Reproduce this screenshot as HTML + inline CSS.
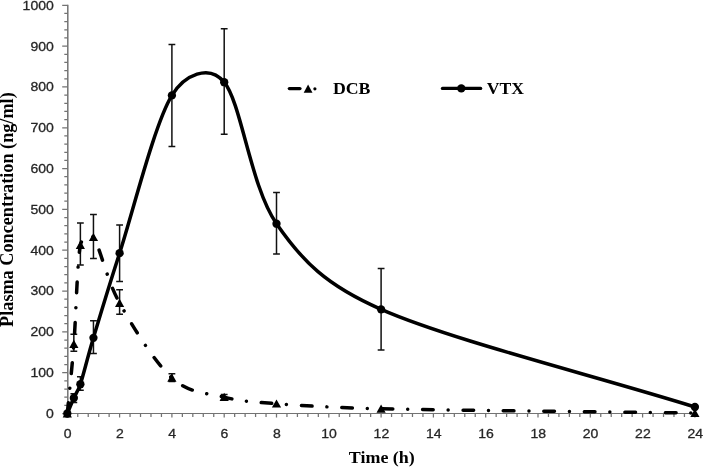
<!DOCTYPE html>
<html><head><meta charset="utf-8"><title>Plasma concentration</title>
<style>html,body{margin:0;padding:0;background:#fff;}body{width:703px;height:467px;overflow:hidden;font-family:"Liberation Sans",sans-serif;}svg{display:block;will-change:transform;}</style>
</head><body>
<svg width="703" height="467" viewBox="0 0 703 467">
<rect width="703" height="467" fill="#fff"/>
<g stroke="#737373" stroke-width="1.25" fill="none">
<path d="M67.80,4.70 V414.0" stroke-width="1.5"/><path d="M67.10,413.5 H695.50" stroke-width="1.1"/>
<path d="M62.20,413.50 H67.7 M64.30,405.34 H67.7 M64.30,397.17 H67.7 M64.30,389.01 H67.7 M64.30,380.84 H67.7 M62.20,372.68 H67.7 M64.30,364.52 H67.7 M64.30,356.35 H67.7 M64.30,348.19 H67.7 M64.30,340.02 H67.7 M62.20,331.86 H67.7 M64.30,323.70 H67.7 M64.30,315.53 H67.7 M64.30,307.37 H67.7 M64.30,299.20 H67.7 M62.20,291.04 H67.7 M64.30,282.88 H67.7 M64.30,274.71 H67.7 M64.30,266.55 H67.7 M64.30,258.38 H67.7 M62.20,250.22 H67.7 M64.30,242.06 H67.7 M64.30,233.89 H67.7 M64.30,225.73 H67.7 M64.30,217.56 H67.7 M62.20,209.40 H67.7 M64.30,201.24 H67.7 M64.30,193.07 H67.7 M64.30,184.91 H67.7 M64.30,176.74 H67.7 M62.20,168.58 H67.7 M64.30,160.42 H67.7 M64.30,152.25 H67.7 M64.30,144.09 H67.7 M64.30,135.92 H67.7 M62.20,127.76 H67.7 M64.30,119.60 H67.7 M64.30,111.43 H67.7 M64.30,103.27 H67.7 M64.30,95.10 H67.7 M62.20,86.94 H67.7 M64.30,78.78 H67.7 M64.30,70.61 H67.7 M64.30,62.45 H67.7 M64.30,54.28 H67.7 M62.20,46.12 H67.7 M64.30,37.96 H67.7 M64.30,29.79 H67.7 M64.30,21.63 H67.7 M64.30,13.46 H67.7 M62.20,5.30 H67.7 M67.30,413.5 V417.60 M77.76,413.5 V417.00 M88.22,413.5 V417.00 M98.68,413.5 V417.00 M109.14,413.5 V417.00 M119.60,413.5 V417.60 M130.06,413.5 V417.00 M140.52,413.5 V417.00 M150.98,413.5 V417.00 M161.44,413.5 V417.00 M171.90,413.5 V417.60 M182.36,413.5 V417.00 M192.82,413.5 V417.00 M203.28,413.5 V417.00 M213.74,413.5 V417.00 M224.20,413.5 V417.60 M234.66,413.5 V417.00 M245.12,413.5 V417.00 M255.58,413.5 V417.00 M266.04,413.5 V417.00 M276.50,413.5 V417.60 M286.96,413.5 V417.00 M297.42,413.5 V417.00 M307.88,413.5 V417.00 M318.34,413.5 V417.00 M328.80,413.5 V417.60 M339.26,413.5 V417.00 M349.72,413.5 V417.00 M360.18,413.5 V417.00 M370.64,413.5 V417.00 M381.10,413.5 V417.60 M391.56,413.5 V417.00 M402.02,413.5 V417.00 M412.48,413.5 V417.00 M422.94,413.5 V417.00 M433.40,413.5 V417.60 M443.86,413.5 V417.00 M454.32,413.5 V417.00 M464.78,413.5 V417.00 M475.24,413.5 V417.00 M485.70,413.5 V417.60 M496.16,413.5 V417.00 M506.62,413.5 V417.00 M517.08,413.5 V417.00 M527.54,413.5 V417.00 M538.00,413.5 V417.60 M548.46,413.5 V417.00 M558.92,413.5 V417.00 M569.38,413.5 V417.00 M579.84,413.5 V417.00 M590.30,413.5 V417.60 M600.76,413.5 V417.00 M611.22,413.5 V417.00 M621.68,413.5 V417.00 M632.14,413.5 V417.00 M642.60,413.5 V417.60 M653.06,413.5 V417.00 M663.52,413.5 V417.00 M673.98,413.5 V417.00 M684.44,413.5 V417.00 M694.90,413.5 V417.60"/>
</g>
<g font-family="Liberation Sans, sans-serif" font-size="13.4" fill="#262626" stroke="#262626" stroke-width="0.3">
<text x="46.00" y="417.95" textLength="7.80" lengthAdjust="spacingAndGlyphs">0</text>
<text x="30.40" y="377.13" textLength="23.40" lengthAdjust="spacingAndGlyphs">100</text>
<text x="30.40" y="336.31" textLength="23.40" lengthAdjust="spacingAndGlyphs">200</text>
<text x="30.40" y="295.49" textLength="23.40" lengthAdjust="spacingAndGlyphs">300</text>
<text x="30.40" y="254.67" textLength="23.40" lengthAdjust="spacingAndGlyphs">400</text>
<text x="30.40" y="213.85" textLength="23.40" lengthAdjust="spacingAndGlyphs">500</text>
<text x="30.40" y="173.03" textLength="23.40" lengthAdjust="spacingAndGlyphs">600</text>
<text x="30.40" y="132.21" textLength="23.40" lengthAdjust="spacingAndGlyphs">700</text>
<text x="30.40" y="91.39" textLength="23.40" lengthAdjust="spacingAndGlyphs">800</text>
<text x="30.40" y="50.57" textLength="23.40" lengthAdjust="spacingAndGlyphs">900</text>
<text x="22.60" y="9.75" textLength="31.20" lengthAdjust="spacingAndGlyphs">1000</text>
<text x="63.70" y="437.7" textLength="7.80" lengthAdjust="spacingAndGlyphs">0</text>
<text x="116.00" y="437.7" textLength="7.80" lengthAdjust="spacingAndGlyphs">2</text>
<text x="168.30" y="437.7" textLength="7.80" lengthAdjust="spacingAndGlyphs">4</text>
<text x="220.60" y="437.7" textLength="7.80" lengthAdjust="spacingAndGlyphs">6</text>
<text x="272.90" y="437.7" textLength="7.80" lengthAdjust="spacingAndGlyphs">8</text>
<text x="321.30" y="437.7" textLength="15.60" lengthAdjust="spacingAndGlyphs">10</text>
<text x="373.60" y="437.7" textLength="15.60" lengthAdjust="spacingAndGlyphs">12</text>
<text x="425.90" y="437.7" textLength="15.60" lengthAdjust="spacingAndGlyphs">14</text>
<text x="478.20" y="437.7" textLength="15.60" lengthAdjust="spacingAndGlyphs">16</text>
<text x="530.50" y="437.7" textLength="15.60" lengthAdjust="spacingAndGlyphs">18</text>
<text x="582.80" y="437.7" textLength="15.60" lengthAdjust="spacingAndGlyphs">20</text>
<text x="635.10" y="437.7" textLength="15.60" lengthAdjust="spacingAndGlyphs">22</text>
<text x="687.40" y="437.7" textLength="15.60" lengthAdjust="spacingAndGlyphs">24</text>
</g>
<g font-family="Liberation Serif, serif" font-weight="bold" font-size="17.5" fill="#000">
<text x="348.8" y="462.7" textLength="66" lengthAdjust="spacingAndGlyphs">Time (h)</text>
<text transform="translate(13.3,326.9) rotate(-90)" font-size="18" textLength="234.6" lengthAdjust="spacingAndGlyphs">Plasma Concentration (ng/ml)</text>
<text x="332.9" y="94" font-size="17.6" textLength="37.6" lengthAdjust="spacingAndGlyphs">DCB</text>
<text x="486.7" y="94" font-size="17.6" textLength="37.3" lengthAdjust="spacingAndGlyphs">VTX</text>
</g>
<path d="M73.84,393.66 V402.46 M70.44,393.66 h6.8 M70.44,402.46 h6.8 M80.38,376.69 V390.19 M76.97,376.69 h6.8 M76.97,390.19 h6.8 M93.45,320.66 V353.58 M90.05,320.66 h6.8 M90.05,353.58 h6.8 M119.60,224.95 V281.52 M116.20,224.95 h6.8 M116.20,281.52 h6.8 M171.90,44.58 V146.50 M168.50,44.58 h6.8 M168.50,146.50 h6.8 M224.20,28.63 V134.32 M220.80,28.63 h6.8 M220.80,134.32 h6.8 M276.50,192.44 V254.07 M273.10,192.44 h6.8 M273.10,254.07 h6.8 M381.10,268.51 V349.98 M377.70,268.51 h6.8 M377.70,349.98 h6.8 M73.84,334.15 V351.33 M70.44,334.15 h6.8 M70.44,351.33 h6.8 M80.38,222.91 V265.03 M76.97,222.91 h6.8 M76.97,265.03 h6.8 M93.45,214.60 V258.49 M90.05,214.60 h6.8 M90.05,258.49 h6.8 M119.60,289.70 V314.24 M116.20,289.70 h6.8 M116.20,314.24 h6.8 M171.90,373.83 V381.60 M168.50,373.83 h6.8 M168.50,381.60 h6.8 M224.20,394.48 V399.80 M220.80,394.48 h6.8 M220.80,399.80 h6.8" stroke="#111" stroke-width="1.5" fill="none"/>
<path d="M67.30,413.50 C69.48,390.39 71.66,372.26 73.84,344.17 C76.02,316.09 77.11,262.82 80.38,244.99 C81.59,238.34 89.67,231.62 93.45,237.22 C99.99,246.90 106.52,279.62 119.60,303.07 C132.67,326.52 154.47,362.24 171.90,377.92 C189.33,393.60 206.77,392.85 224.20,397.14 C241.63,401.43 253.14,401.95 276.50,403.68 C302.65,405.63 334.57,407.75 381.10,408.80 C450.83,410.36 590.30,411.66 694.90,413.09" stroke="#000" stroke-width="3.5" fill="none" stroke-linecap="round" stroke-dasharray="10.6 14.9 0.01 14.9"/>
<path d="M67.30,413.50 C69.48,408.32 71.66,402.84 73.84,397.96 C76.02,393.08 78.28,390.65 80.38,384.22 C83.64,374.20 87.31,358.35 93.45,337.84 C99.99,315.99 107.47,290.64 119.60,253.17 C132.67,212.77 154.47,123.91 171.90,95.42 C184.41,74.97 209.05,63.63 224.20,82.21 C241.63,103.59 250.35,185.86 276.50,223.72 C302.65,261.58 326.06,285.27 381.10,309.37 C450.83,339.91 590.30,374.43 694.90,406.96" stroke="#000" stroke-width="3.5" fill="none" stroke-linecap="round" stroke-linejoin="round"/>
<path d="M67.30,409.20 L71.90,417.40 H62.70 Z" fill="#000"/>
<path d="M73.84,339.87 L78.44,348.07 H69.24 Z" fill="#000"/>
<path d="M80.38,240.69 L84.97,248.89 H75.78 Z" fill="#000"/>
<path d="M93.45,232.92 L98.05,241.12 H88.85 Z" fill="#000"/>
<path d="M119.60,298.77 L124.20,306.97 H115.00 Z" fill="#000"/>
<path d="M171.90,373.62 L176.50,381.82 H167.30 Z" fill="#000"/>
<path d="M224.20,392.84 L228.80,401.04 H219.60 Z" fill="#000"/>
<path d="M276.50,399.38 L281.10,407.58 H271.90 Z" fill="#000"/>
<path d="M381.10,404.50 L385.70,412.70 H376.50 Z" fill="#000"/>
<path d="M694.90,408.79 L699.50,416.99 H690.30 Z" fill="#000"/>
<circle cx="67.30" cy="413.50" r="4.15" fill="#000"/>
<circle cx="73.84" cy="397.96" r="4.15" fill="#000"/>
<circle cx="80.38" cy="384.22" r="4.15" fill="#000"/>
<circle cx="93.45" cy="337.84" r="4.15" fill="#000"/>
<circle cx="119.60" cy="253.17" r="4.15" fill="#000"/>
<circle cx="171.90" cy="95.42" r="4.15" fill="#000"/>
<circle cx="224.20" cy="82.21" r="4.15" fill="#000"/>
<circle cx="276.50" cy="223.72" r="4.15" fill="#000"/>
<circle cx="381.10" cy="309.37" r="4.15" fill="#000"/>
<circle cx="694.90" cy="406.96" r="4.15" fill="#000"/>
<path d="M289.4,88.6 H299.9" stroke="#000" stroke-width="3.4" stroke-linecap="round"/>
<path d="M308.1,84.5 L312.5,92.8 H303.7 Z" fill="#000"/>
<circle cx="314.9" cy="88.8" r="1.6" fill="#000"/>
<path d="M442.5,88.4 H480.6" stroke="#000" stroke-width="3.4" stroke-linecap="round"/>
<circle cx="461.3" cy="88.4" r="4.2" fill="#000"/>
</svg>
</body></html>
